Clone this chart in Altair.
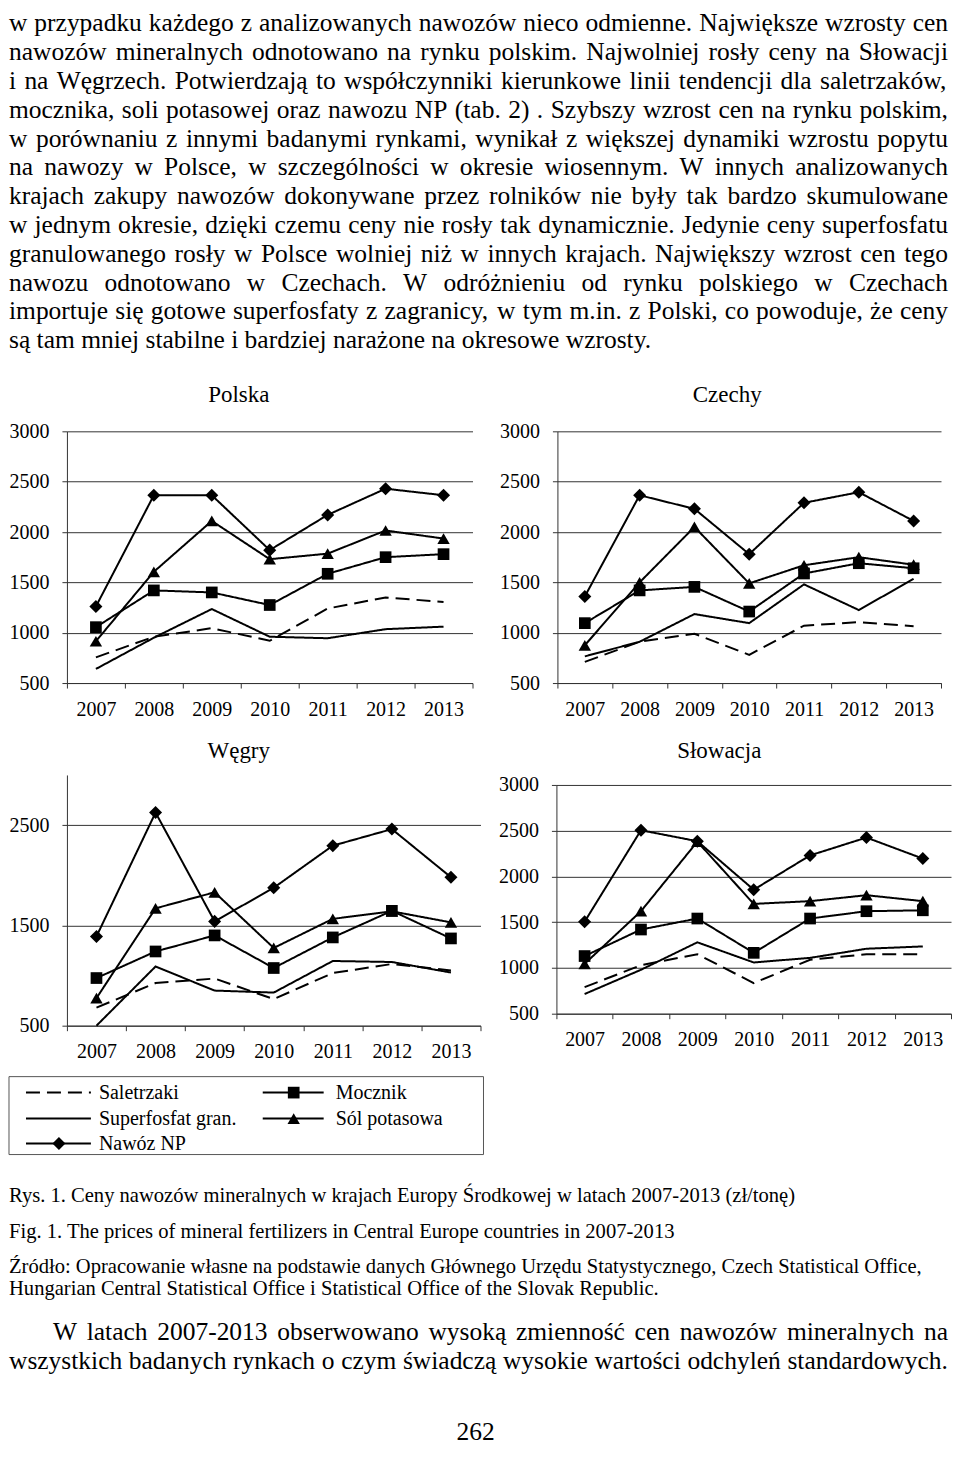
import altair as alt
import pandas as pd

FONT = "Liberation Serif"

# ---------------- data ----------------
years = [2007, 2008, 2009, 2010, 2011, 2012, 2013]
series_names = ["Saletrzaki", "Superfosfat gran.", "Nawóz NP", "Mocznik", "Sól potasowa"]
marker_series = ["Mocznik", "Sól potasowa", "Nawóz NP"]
countries = ["Polska", "Czechy", "Węgry", "Słowacja"]

polska_saletrzaki = [755, 960, 1045, 920, 1240, 1350, 1305]
polska_superfosfat = [640, 950, 1235, 960, 945, 1035, 1060]
polska_np = [1260, 2365, 2365, 1820, 2170, 2430, 2365]
polska_mocznik = [1055, 1420, 1400, 1275, 1585, 1750, 1780]
polska_sol = [915, 1605, 2110, 1730, 1785, 2015, 1935]

czechy_saletrzaki = [710, 910, 990, 780, 1070, 1105, 1065]
czechy_superfosfat = [765, 910, 1185, 1095, 1480, 1225, 1535]
czechy_np = [1360, 2365, 2230, 1780, 2290, 2395, 2110]
czechy_mocznik = [1095, 1420, 1455, 1210, 1588, 1690, 1640]
czechy_sol = [875, 1500, 2050, 1490, 1670, 1750, 1675]

wegry_saletrzaki = [680, 925, 970, 765, 1025, 1115, 1050]
wegry_superfosfat = [500, 1090, 850, 830, 1145, 1135, 1030]
wegry_np = [1390, 2625, 1540, 1875, 2295, 2460, 1980]
wegry_mocznik = [975, 1240, 1400, 1075, 1380, 1645, 1370]
wegry_sol = [775, 1670, 1830, 1275, 1565, 1640, 1530]

slowacja_saletrzaki = [790, 1030, 1150, 835, 1090, 1150, 1150]
slowacja_superfosfat = [715, 980, 1280, 1060, 1110, 1210, 1235]
slowacja_np = [1505, 2505, 2385, 1855, 2230, 2425, 2195]
slowacja_mocznik = [1130, 1420, 1540, 1165, 1540, 1620, 1630]
slowacja_sol = [1045, 1620, 2380, 1700, 1730, 1795, 1730]

values = {
    "Polska": [polska_saletrzaki, polska_superfosfat, polska_np, polska_mocznik, polska_sol],
    "Czechy": [czechy_saletrzaki, czechy_superfosfat, czechy_np, czechy_mocznik, czechy_sol],
    "Węgry": [wegry_saletrzaki, wegry_superfosfat, wegry_np, wegry_mocznik, wegry_sol],
    "Słowacja": [slowacja_saletrzaki, slowacja_superfosfat, slowacja_np, slowacja_mocznik, slowacja_sol],
}

top_lines = [
    "w przypadku każdego z analizowanych nawozów nieco odmienne. Największe wzrosty cen",
    "nawozów mineralnych odnotowano na rynku polskim. Najwolniej rosły ceny na Słowacji",
    "i na Węgrzech. Potwierdzają to współczynniki kierunkowe linii tendencji dla saletrzaków,",
    "mocznika, soli potasowej oraz nawozu NP (tab. 2) . Szybszy wzrost cen na rynku polskim,",
    "w porównaniu z innymi badanymi rynkami, wynikał z większej dynamiki wzrostu popytu",
    "na nawozy w Polsce, w szczególności w okresie wiosennym. W innych analizowanych",
    "krajach zakupy nawozów dokonywane przez rolników nie były tak bardzo skumulowane",
    "w jednym okresie, dzięki czemu ceny nie rosły tak dynamicznie. Jedynie ceny superfosfatu",
    "granulowanego rosły w Polsce wolniej niż w innych krajach. Największy wzrost cen tego",
    "nawozu odnotowano w Czechach. W odróżnieniu od rynku polskiego w Czechach",
    "importuje się gotowe superfosfaty z zagranicy, w tym m.in. z Polski, co powoduje, że ceny",
    "są tam mniej stabilne i bardziej narażone na okresowe wzrosty.",
]
caption_lines = [
    "Rys. 1. Ceny nawozów mineralnych w krajach Europy Środkowej w latach 2007-2013 (zł/tonę)",
    "Fig. 1. The prices of mineral fertilizers in Central Europe countries in 2007-2013",
    "Źródło: Opracowanie własne na podstawie danych Głównego Urzędu Statystycznego, Czech Statistical Office,",
    "Hungarian Central Statistical Office i Statistical Office of the Slovak Republic.",
]
bottom_lines = [
    "W latach 2007-2013 obserwowano wysoką zmienność cen nawozów mineralnych na",
    "wszystkich badanych rynkach o czym świadczą wysokie wartości odchyleń standardowych.",
]
page_number = "262"

legend_order = ["Saletrzaki", "Mocznik", "Superfosfat gran.", "Sól potasowa", "Nawóz NP"]

# ---------------- tables ----------------
rows = []
for c in countries:
    for s, vals in zip(series_names, values[c]):
        for yr, v in zip(years, vals):
            rows.append({"country": c, "series": s, "year": yr, "value": v})
df = pd.DataFrame(rows)

# Times / Liberation Serif advance widths (1/1000 em) for justification
TW = {" ": 250, ".": 250, ",": 250, ":": 278, ";": 278, "(": 333, ")": 333, "-": 333, "/": 278}
for ch in "0123456789":
    TW[ch] = 500
TW.update(dict(zip("ABCDEFGHIJKLMNOPQRSTUVWXYZ",
                   [722, 667, 667, 722, 611, 556, 722, 722, 333, 389, 722, 611, 889,
                    722, 722, 556, 722, 667, 556, 611, 722, 722, 944, 722, 722, 611])))
TW.update(dict(zip("abcdefghijklmnopqrstuvwxyz",
                   [444, 500, 444, 500, 444, 333, 500, 500, 278, 278, 500, 278, 778,
                    500, 500, 500, 500, 333, 389, 278, 500, 500, 722, 500, 500, 444])))
for a, b in zip("ąćęłńóśźżĄĆĘŁŃÓŚŹŻ", "acelnoszzACELNOSZZ"):
    TW[a] = TW[b]


def tw(s, fs):
    return sum(TW.get(ch, 500) for ch in s) / 1000.0 * fs


def words_of(line, x0, x1, y, fs, justify=True):
    ws = line.split(" ")
    wd = [tw(w, fs) for w in ws]
    if justify and len(ws) > 1:
        gap = max((x1 - x0 - sum(wd)) / (len(ws) - 1), 0.15 * fs)
    else:
        gap = 0.25 * fs
    out, x = [], x0
    for w, d in zip(ws, wd):
        out.append({"w": w, "xp": x, "yp": y})
        x += d + gap
    return out


# ---------------- layout constants ----------------
TEXT_FS = 25.5
CAP_FS = 20.6
TOP_H = 367
LX = 58          # left extent of y-axis labels of the panels (column origin offset)
T_B = 1062       # page y of bottom block
X0 = -LX         # page x 8 in text-block coordinates
XR = 940 - LX    # right text edge

# ---------------- top paragraph ----------------
top_words = []
for i, ln in enumerate(top_lines):
    top_words += words_of(ln, X0, XR, 14.5 + 28.85 * i, TEXT_FS, justify=(i < len(top_lines) - 1))
top = alt.Chart(pd.DataFrame(top_words)).mark_text(
    font=FONT, fontSize=TEXT_FS, align="left", baseline="middle", color="black"
).encode(
    x=alt.X("xp:Q", scale=None, axis=None),
    y=alt.Y("yp:Q", scale=None, axis=None),
    text="w:N",
).properties(width=944 - LX, height=TOP_H)

# ---------------- panels ----------------
dash_scale = alt.Scale(domain=series_names, range=[[14, 7], [1, 0], [1, 0], [1, 0], [1, 0]])
shape_scale = alt.Scale(domain=marker_series, range=["square", "triangle-up", "diamond"])
size_scale = alt.Scale(domain=marker_series, range=[137, 170, 200])
AX = "#333333"


def panel(country, width, height, ytop, yticks, tx, ty):
    d = df[df.country == country]
    x = alt.X(
        "year:O", bandPosition=0.5,
        scale=alt.Scale(type="band", paddingInner=0, paddingOuter=0),
        axis=alt.Axis(title=None, labelAngle=0, tickBand="extent", tickExtra=True, grid=False,
                      labelPadding=11, tickSize=5, domainColor=AX, tickColor=AX,
                      labelFont=FONT, labelFontSize=20, labelColor="black"),
    )
    y = alt.Y(
        "value:Q",
        scale=alt.Scale(domain=[500, 3000], range=[height, ytop], nice=False, zero=False),
        axis=alt.Axis(title=None, values=yticks, format="d", grid=True, gridColor=AX,
                      tickSize=5, labelPadding=13, domainColor=AX, tickColor=AX,
                      labelFont=FONT, labelFontSize=20, labelColor="black"),
    )
    lines = alt.Chart(d).mark_line(color="black", strokeWidth=2).encode(
        x=x, y=y, strokeDash=alt.StrokeDash("series:N", scale=dash_scale, legend=None)
    )
    pts = alt.Chart(d[d.series.isin(marker_series)]).mark_point(
        filled=True, color="black", opacity=1
    ).encode(
        x=x, y=y,
        shape=alt.Shape("series:N", scale=shape_scale, legend=None),
        size=alt.Size("series:N", scale=size_scale, legend=None),
    )
    ttl = alt.Chart(pd.DataFrame({"t": [country]})).mark_text(
        font=FONT, fontSize=23, color="black", align="center", baseline="middle"
    ).encode(text="t:N", x=alt.value(tx), y=alt.value(ty))
    return alt.layer(lines, pts, ttl).properties(width=width, height=height)


ticks_full = [500, 1000, 1500, 2000, 2500, 3000]
ticks_w = [500, 1500, 2500]

p_pl = panel("Polska", 406, 308, 56, ticks_full, 172, 20)
p_cz = panel("Czechy", 384, 308, 56, ticks_full, 170, 20)
p_hu = panel("Węgry", 414, 307, 56, ticks_w, 172, 32)
p_sk = panel("Słowacja", 395, 295, 66, ticks_full, 163, 32)

row1 = alt.hconcat(p_pl, p_cz, spacing=26)
row2 = alt.hconcat(p_hu, p_sk, spacing=17)

# ---------------- bottom block ----------------
leg_line_x0 = [17 - LX, 254 - LX]
leg_line_x1 = [82 - LX, 315 - LX]
leg_mark_x = [50 - LX, 285 - LX]
leg_text_x = [90 - LX, 327 - LX]
leg_row_y = [1093 - T_B, 1119 - T_B, 1144 - T_B]
leg = []
for i, s in enumerate(legend_order):
    r, c = divmod(i, 2)
    leg.append({"series": s, "x0": leg_line_x0[c], "x1": leg_line_x1[c], "xm": leg_mark_x[c],
                "xt": leg_text_x[c], "y": leg_row_y[r]})
leg_df = pd.DataFrame(leg)

box = alt.Chart(pd.DataFrame({"x": [X0], "x2": [475 - LX], "y": [1077 - T_B], "y2": [1155 - T_B]})).mark_rect(
    fillOpacity=0, stroke="#555555", strokeWidth=1
).encode(x=alt.X("x:Q", scale=None, axis=None), x2="x2:Q",
         y=alt.Y("y:Q", scale=None, axis=None), y2="y2:Q")
leg_rules = alt.Chart(leg_df).mark_rule(color="black", strokeWidth=2).encode(
    x=alt.X("x0:Q", scale=None, axis=None), x2="x1:Q", y=alt.Y("y:Q", scale=None, axis=None),
    strokeDash=alt.StrokeDash("series:N", scale=dash_scale, legend=None),
)
leg_pts = alt.Chart(leg_df[leg_df.series.isin(marker_series)]).mark_point(
    filled=True, color="black", opacity=1
).encode(
    x=alt.X("xm:Q", scale=None, axis=None), y=alt.Y("y:Q", scale=None, axis=None),
    shape=alt.Shape("series:N", scale=shape_scale, legend=None),
    size=alt.Size("series:N", scale=size_scale, legend=None),
)
leg_txt = alt.Chart(leg_df).mark_text(
    font=FONT, fontSize=20, align="left", baseline="middle", color="black"
).encode(x=alt.X("xt:Q", scale=None, axis=None), y=alt.Y("y:Q", scale=None, axis=None), text="series:N")

cap_y = [1197 - T_B, 1233 - T_B, 1268 - T_B, 1290 - T_B]
cap_df = pd.DataFrame({"t": caption_lines, "x": [X0] * 4, "y": cap_y})
caps = alt.Chart(cap_df).mark_text(
    font=FONT, fontSize=CAP_FS, align="left", baseline="middle", color="black"
).encode(x=alt.X("x:Q", scale=None, axis=None), y=alt.Y("y:Q", scale=None, axis=None), text="t:N")

bw = words_of(bottom_lines[0], 44 - LX, XR, 1333 - T_B, TEXT_FS) + \
    words_of(bottom_lines[1], X0, XR, 1362 - T_B, TEXT_FS)
para = alt.Chart(pd.DataFrame(bw)).mark_text(
    font=FONT, fontSize=TEXT_FS, align="left", baseline="middle", color="black"
).encode(x=alt.X("xp:Q", scale=None, axis=None), y=alt.Y("yp:Q", scale=None, axis=None), text="w:N")

num = alt.Chart(pd.DataFrame({"t": [page_number], "x": [467 - LX], "y": [1433 - T_B]})).mark_text(
    font=FONT, fontSize=TEXT_FS, align="center", baseline="middle", color="black"
).encode(x=alt.X("x:Q", scale=None, axis=None), y=alt.Y("y:Q", scale=None, axis=None), text="t:N")

bottom = alt.layer(box, leg_rules, leg_pts, leg_txt, caps, para, num).properties(width=944 - LX, height=380)

chart = alt.vconcat(top, row1, row2, bottom, spacing=0).properties(
    padding=0, background="white"
).configure(font=FONT).configure_view(stroke="transparent", strokeWidth=0)

chart.save("out.html", embed_options={"renderer": "svg", "actions": False})
